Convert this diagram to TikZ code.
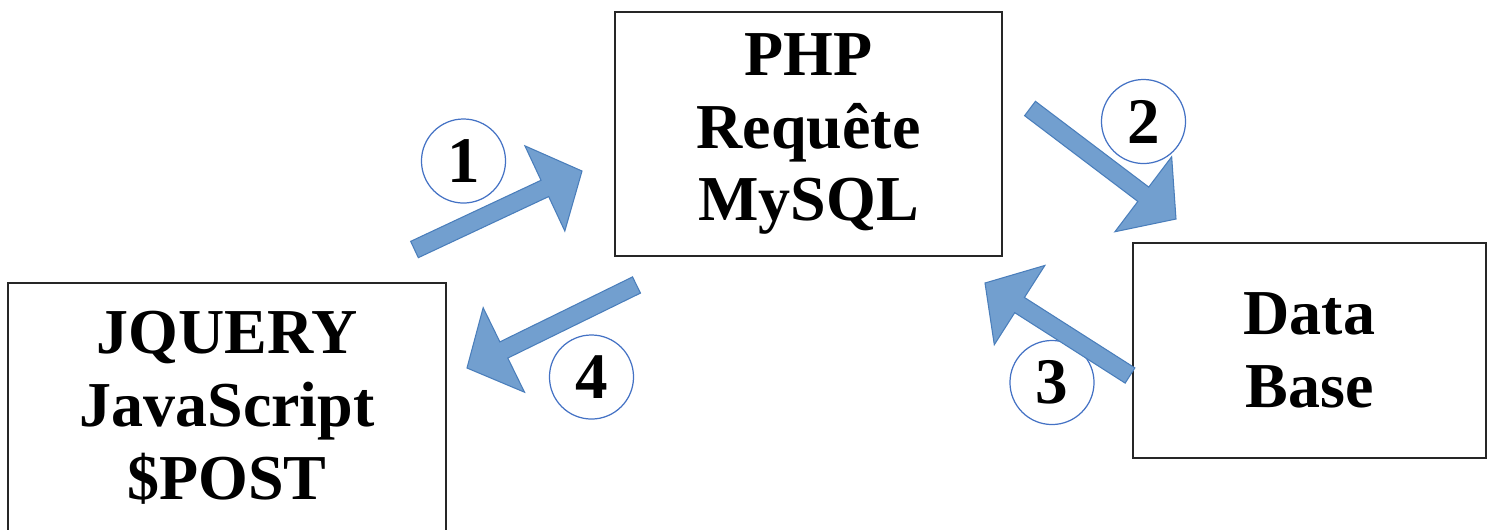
\documentclass[tikz,border=0pt]{standalone}
\usepackage{fontspec}
\setmainfont{Liberation Serif}
\usetikzlibrary{calc}

\definecolor{arrowfill}{RGB}{114,159,207}
\definecolor{arrowline}{RGB}{74,126,187}
\definecolor{ringblue}{RGB}{68,114,196}

% fat arrow from tail #1 to tip #2
\newcommand{\blockarrow}[2]{%
  \coordinate (hb) at ($(#2)!0.41cm!(#1)$);
  \filldraw[flow] ($(#1)!0.09cm!90:(#2)$) -- ($(hb)!0.09cm!90:(#2)$)
    -- ($(hb)!0.47cm!90:(#2)$) -- (#2) -- ($(hb)!0.47cm!-90:(#2)$)
    -- ($(hb)!0.09cm!-90:(#2)$) -- ($(#1)!0.09cm!-90:(#2)$) -- cycle;}

\begin{document}
\begin{tikzpicture}[x=0.01cm,y=-0.01cm,
  box/.style={draw=black!85,line width=0.45pt,inner sep=0pt,align=center,
    font=\bfseries\fontsize{18.2}{20.7}\selectfont},
  num/.style={shape=circle,draw=ringblue,line width=0.35pt,minimum size=0.84cm,
    inner sep=0pt,font=\bfseries\fontsize{18.5}{18.5}\selectfont},
  flow/.style={fill=arrowfill,draw=arrowline,line width=0.3pt,line join=miter}]
\clip (0,0) rectangle (1496,529);

\node[box,minimum width=3.87cm,minimum height=2.44cm] (php) at (808.5,134) {PHP\\Requête\\MySQL};
\node[box,minimum width=4.38cm,minimum height=2.5cm] (js) at (227,408) {JQUERY\\JavaScript\\\$POST};
\node[box,minimum width=3.53cm,minimum height=2.15cm] (db) at (1309.5,350.5) {Data\\Base};

\node[num] (1) at (463.5,161) {1};
\node[num] (2) at (1143.5,121.5) {2};
\node[num] (3) at (1052,382.5) {3};
\node[num] (4) at (591.5,377) {4};

\coordinate (t1) at (414.5,249.5);
\coordinate (h1) at (582,171);
\coordinate (t2) at (1030,108.5);
\coordinate (h2) at (1176,219);
\coordinate (t3) at (1130,375.5);
\coordinate (h3) at (985,283);
\coordinate (t4) at (636.5,285);
\coordinate (h4) at (467,368);

\blockarrow{t1}{h1}
\blockarrow{t2}{h2}
\blockarrow{t3}{h3}
\blockarrow{t4}{h4}
\end{tikzpicture}
\end{document}
